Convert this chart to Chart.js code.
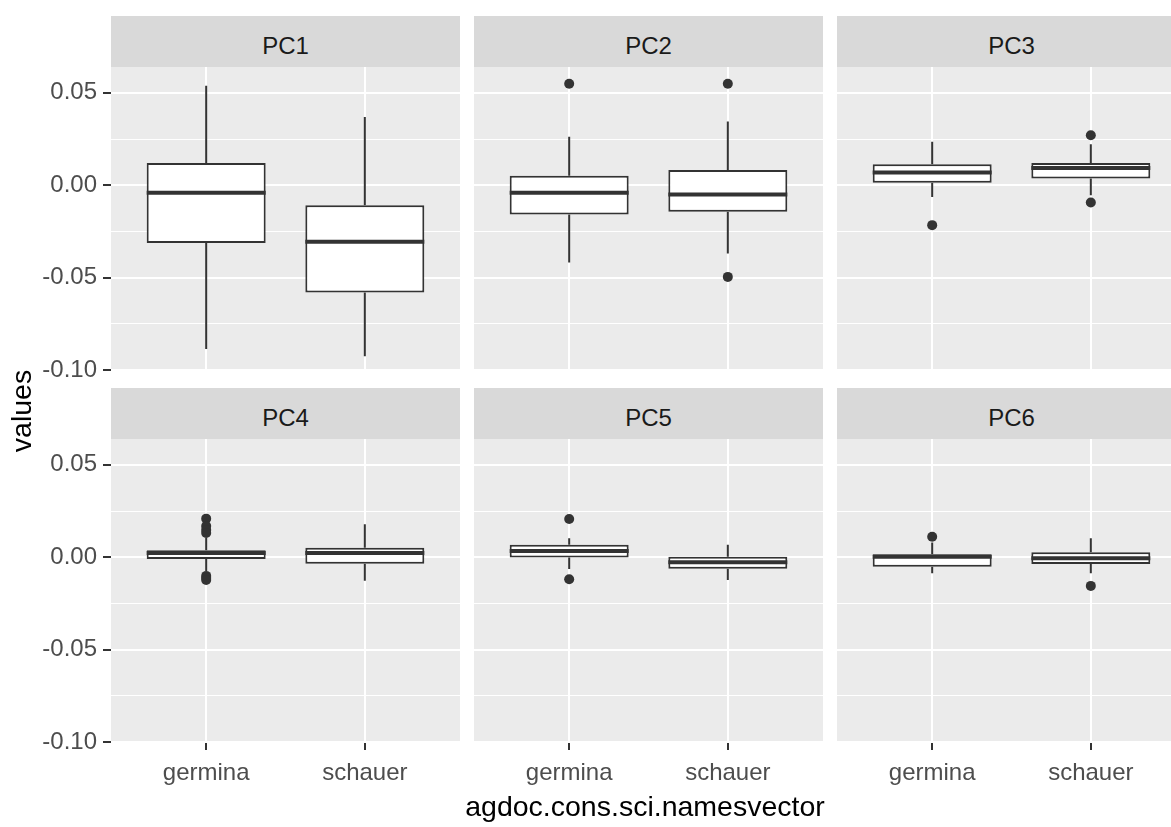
<!DOCTYPE html>
<html>
<head>
<meta charset="utf-8">
<title>Principal component scores by species</title>
<script src="https://cdn.jsdelivr.net/npm/chart.js@4.4.1/dist/chart.umd.min.js"></script>
<style>
  html, body { margin: 0; padding: 0; background: #ffffff; }
  #figure {
    position: relative; width: 1171px; height: 827px; overflow: hidden;
    font-family: "Liberation Sans", Arial, sans-serif;
  }
  #figure canvas { position: absolute; }
  .strip {
    position: absolute; box-sizing: border-box; height: 51px; padding-top: 4px;
    line-height: 51px; background: #D9D9D9; color: #1A1A1A;
    font-size: 24px; text-align: center;
  }
  .axis-title {
    position: absolute; height: 32px; line-height: 32px; color: #000000;
    font-size: 28.5px; text-align: center; white-space: nowrap;
  }
</style>
</head>
<body>
<div id="figure"></div>
<script>
// Facets and groups
const components = ['PC1', 'PC2', 'PC3', 'PC4', 'PC5', 'PC6'];
const groups = ['germina', 'schauer'];

// Shared value axis
const yTicks = [-0.1, -0.075, -0.05, -0.025, 0, 0.025, 0.05];
const yLabelled = [-0.1, -0.05, 0, 0.05];

// Box statistics, one row per component: [germina, schauer]
const whiskerLow  = [[-0.0887, -0.0925], [-0.0418, -0.0369], [-0.0063, -0.0054],
                     [-0.0075, -0.0127], [-0.0063, -0.0123], [-0.0087, -0.0087]];
const lowerHinge  = [[-0.0313, -0.0580], [-0.0158, -0.0144], [ 0.0013,  0.0037],
                     [-0.0010, -0.0035], [-0.0002, -0.0062], [-0.0051, -0.0036]];
const medians     = [[-0.0041, -0.0306], [-0.0041, -0.0050], [ 0.0069,  0.0094],
                     [ 0.0023,  0.0023], [ 0.0034, -0.0027], [ 0.0002, -0.0005]];
const upperHinge  = [[ 0.0121, -0.0108], [ 0.0051,  0.0083], [ 0.0113,  0.0121],
                     [ 0.0038,  0.0052], [ 0.0067,  0.0003], [ 0.0016,  0.0027]];
const whiskerHigh = [[ 0.0538,  0.0370], [ 0.0262,  0.0345], [ 0.0235,  0.0222],
                     [ 0.0105,  0.0179], [ 0.0103,  0.0067], [ 0.0080,  0.0103]];
const outliers = [
  [[], []],
  [[0.0549], [0.0549, -0.0496]],
  [[-0.0216], [0.0271, -0.0093]],
  [[0.0209, 0.0169, 0.0148, 0.0131, -0.0101, -0.0112, -0.0123], []],
  [[0.0207, -0.0119], []],
  [[0.0111], [-0.0155]]
];

// Page geometry
const FONT = '"Liberation Sans", Arial, sans-serif';
const panelLeft = [111, 474, 837];
const panelWidth = 349;
const plotTop = [67, 439];
const plotHeight = 303;
const stripTop = [16, 388];
const yAxisWidth = 111;
const xAxisHeight = [22, 50];
const halfBox = 0.375;

const figure = document.getElementById('figure');
const centre = j => j + 1;
const isLabelled = v => yLabelled.some(t => Math.abs(t - v) < 1e-9);

const panelBackground = {
  id: 'panelBackground',
  beforeDraw(chart) {
    const { ctx, chartArea: a } = chart;
    ctx.save();
    ctx.fillStyle = '#EBEBEB';
    ctx.fillRect(a.left, a.top, a.right - a.left, a.bottom - a.top);
    ctx.restore();
  }
};

components.forEach((name, i) => {
  const col = i % 3;
  const row = Math.floor(i / 3);
  const showY = col === 0;
  const showX = row === 1;

  // strip header
  const strip = document.createElement('div');
  strip.className = 'strip';
  strip.style.left = panelLeft[col] + 'px';
  strip.style.top = stripTop[row] + 'px';
  strip.style.width = panelWidth + 'px';
  strip.textContent = name;
  figure.appendChild(strip);

  // panel canvas
  const canvas = document.createElement('canvas');
  const left = showY ? panelLeft[col] - yAxisWidth : panelLeft[col];
  const width = showY ? panelWidth + yAxisWidth : panelWidth;
  const height = plotHeight + xAxisHeight[row];
  canvas.width = width;
  canvas.height = height;
  canvas.style.left = left + 'px';
  canvas.style.top = plotTop[row] + 'px';
  canvas.style.width = width + 'px';
  canvas.style.height = height + 'px';
  figure.appendChild(canvas);

  const whiskerPoints = groups.flatMap((g, j) => [
    { x: centre(j), y: whiskerLow[i][j] }, { x: centre(j), y: lowerHinge[i][j] },
    { x: centre(j), y: null },
    { x: centre(j), y: upperHinge[i][j] }, { x: centre(j), y: whiskerHigh[i][j] },
    { x: centre(j), y: null }
  ]);
  const medianPoints = groups.flatMap((g, j) => [
    { x: centre(j) - halfBox, y: medians[i][j] }, { x: centre(j) + halfBox, y: medians[i][j] },
    { x: centre(j), y: null }
  ]);
  const boxPoints = groups.map((g, j) => ({ x: centre(j), y: [lowerHinge[i][j], upperHinge[i][j]] }));
  const outlierPoints = groups.flatMap((g, j) => outliers[i][j].map(v => ({ x: centre(j), y: v })));

  new Chart(canvas, {
    type: 'bar',
    data: {
      datasets: [
        {
          type: 'scatter', order: 0, data: outlierPoints,
          pointRadius: 5, pointBackgroundColor: '#333333', pointBorderWidth: 0,
          pointHoverRadius: 5
        },
        {
          type: 'line', order: 1, data: medianPoints,
          borderColor: '#333333', borderWidth: 4, borderCapStyle: 'butt',
          pointRadius: 0, spanGaps: false, fill: false, tension: 0
        },
        {
          type: 'bar', order: 2, data: boxPoints,
          backgroundColor: '#FFFFFF', borderColor: '#333333', borderWidth: 2,
          borderSkipped: false, barPercentage: 0.75, categoryPercentage: 1
        },
        {
          type: 'line', order: 3, data: whiskerPoints,
          borderColor: '#333333', borderWidth: 2, borderCapStyle: 'butt',
          pointRadius: 0, spanGaps: false, fill: false, tension: 0
        }
      ]
    },
    options: {
      responsive: false,
      animation: false,
      events: [],
      layout: { padding: 0, autoPadding: false },
      plugins: { legend: { display: false }, tooltip: { enabled: false } },
      scales: {
        x: {
          type: 'linear', min: 0.4, max: 2.6, offset: false,
          afterBuildTicks: s => { s.ticks = groups.map((g, j) => ({ value: centre(j) })); },
          afterFit: s => { s.height = xAxisHeight[row]; s.paddingLeft = 0; s.paddingRight = 0; },
          border: { display: false },
          grid: {
            offset: false, color: '#FFFFFF', lineWidth: 2,
            drawTicks: showX, tickLength: 8, tickColor: '#333333', tickWidth: 2
          },
          ticks: {
            display: showX, autoSkip: false, maxRotation: 0, padding: 9,
            color: '#4D4D4D', font: { family: FONT, size: 24 },
            callback: (v, idx) => groups[idx]
          }
        },
        y: {
          type: 'linear', min: -0.1, max: 0.064, offset: false,
          afterBuildTicks: s => { s.ticks = yTicks.map(v => ({ value: v })); },
          afterFit: s => { s.width = showY ? yAxisWidth : 0; s.paddingTop = 0; s.paddingBottom = 0; },
          border: { display: false },
          grid: {
            color: '#FFFFFF',
            lineWidth: ctx => (ctx.tick && isLabelled(ctx.tick.value)) ? 2 : 1.1,
            drawTicks: showY, tickLength: 8, tickWidth: 2,
            tickColor: ctx => (ctx.tick && isLabelled(ctx.tick.value)) ? '#333333' : 'rgba(0,0,0,0)'
          },
          ticks: {
            display: showY, autoSkip: false, padding: 6,
            color: '#4D4D4D', font: { family: FONT, size: 24 },
            callback: v => isLabelled(v) ? v.toFixed(2) : ''
          }
        }
      }
    },
    plugins: [panelBackground]
  });
});

// axis titles
const xTitle = document.createElement('div');
xTitle.className = 'axis-title';
xTitle.style.left = '345px';
xTitle.style.width = '600px';
xTitle.style.top = '790px';
xTitle.textContent = 'agdoc.cons.sci.namesvector';
figure.appendChild(xTitle);

const yTitle = document.createElement('div');
yTitle.className = 'axis-title';
yTitle.style.left = '-79px';
yTitle.style.width = '200px';
yTitle.style.top = '395px';
yTitle.style.transform = 'rotate(-90deg)';
yTitle.textContent = 'values';
figure.appendChild(yTitle);
</script>
</body>
</html>
